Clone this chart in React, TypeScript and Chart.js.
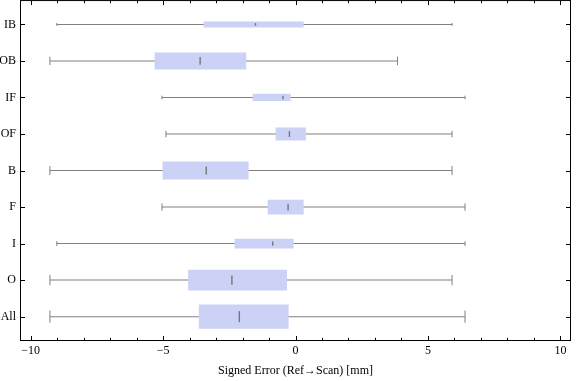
import React, { useEffect, useRef } from 'react';
import { Chart, registerables } from 'chart.js';

Chart.register(...registerables);

// ---- data ----
const categories = ['IB', 'OB', 'IF', 'OF', 'B', 'F', 'I', 'O', 'All'];
const whiskerLow = [-9.01, -9.27, -5.04, -4.89, -9.27, -5.04, -9.01, -9.27, -9.27];
const q1 = [-3.47, -5.32, -1.62, -0.75, -5.02, -1.05, -2.3, -4.05, -3.65];
const medians = [-1.51, -3.6, -0.47, -0.23, -3.37, -0.28, -0.86, -2.4, -2.12];
const q3 = [0.31, -1.86, -0.18, 0.39, -1.77, 0.31, -0.07, -0.32, -0.26];
const whiskerHigh = [5.91, 3.85, 6.4, 5.91, 5.91, 6.4, 6.4, 5.91, 6.4];

const xTicks = [-10, -9, -8, -7, -6, -5, -4, -3, -2, -1, 0, 1, 2, 3, 4, 5, 6, 7, 8, 9, 10];
const xMajorTicks = [-10, -5, 0, 5, 10];
const xTitle = 'Signed Error (Ref\u2192Scan) [mm]';

// ---- styles ----
const BOX_PX = [6, 17, 7.3, 13, 18, 14.7, 9.7, 20.7, 24.3];
const BOX_COLOR = 'rgb(204,210,245)';
const WHISKER_COLOR = '#808080';
const MEDIAN_COLOR = '#767676';
const FONT = 'Liberation Serif, Times New Roman, serif';

const fmt = (v: number) => (v < 0 ? '\u2212' + Math.abs(v) : String(v));

const frameTicks = {
  id: 'frameTicks',
  afterDraw(chart: any) {
    const { ctx, chartArea: a, scales } = chart;
    const xs = scales.x;
    const ys = scales.y;
    ctx.save();
    ctx.strokeStyle = '#000';
    ctx.lineWidth = 1;
    ctx.strokeRect(a.left + 0.5, a.top + 0.5, a.right - a.left - 1, a.bottom - a.top - 1);
    ctx.beginPath();
    for (const t of xs.ticks) {
      const px = Math.round(xs.getPixelForValue(t.value)) + 0.5;
      const len = xMajorTicks.includes(t.value) ? 4 : 2.2;
      ctx.moveTo(px, a.bottom - 1);
      ctx.lineTo(px, a.bottom - 1 - len);
      ctx.moveTo(px, a.top + 1);
      ctx.lineTo(px, a.top + 1 + len);
    }
    for (const t of ys.ticks) {
      const py = Math.round(ys.getPixelForValue(t.value)) + 0.5;
      ctx.moveTo(a.left + 1, py);
      ctx.lineTo(a.left + 5, py);
      ctx.moveTo(a.right - 1, py);
      ctx.lineTo(a.right - 5, py);
    }
    ctx.stroke();
    ctx.restore();
  },
};

export default function App() {
  const ref = useRef<HTMLCanvasElement>(null);

  useEffect(() => {
    document.body.style.margin = '0';
    const pos = categories.map((_, i) => i + 1);

    const boxSets = categories.map((c, i) => ({
      type: 'bar' as const,
      label: c,
      indexAxis: 'y' as const,
      data: [{ x: [q1[i], q3[i]], y: pos[i] }],
      backgroundColor: BOX_COLOR,
      borderWidth: 0,
      inflateAmount: 0,
      barThickness: BOX_PX[i],
      maxBarThickness: BOX_PX[i],
      grouped: false,
      order: 5,
    }));

    const chart = new Chart(ref.current as HTMLCanvasElement, {
      type: 'bar',
      data: {
        datasets: [
          {
            type: 'scatter',
            label: 'median',
            data: medians.map((m, i) => ({ x: m, y: pos[i] })),
            pointStyle: 'line',
            pointRotation: 90,
            pointRadius: BOX_PX.map((t) => t / 4.4),
            pointBorderColor: MEDIAN_COLOR,
            pointBackgroundColor: MEDIAN_COLOR,
            pointBorderWidth: 1.4,
            order: 1,
          } as any,
          {
            type: 'scatter',
            label: 'caps',
            data: [
              ...whiskerLow.map((v, i) => ({ x: v, y: pos[i] })),
              ...whiskerHigh.map((v, i) => ({ x: v, y: pos[i] })),
            ],
            pointStyle: 'line',
            pointRotation: 90,
            pointRadius: [...BOX_PX, ...BOX_PX].map((t) => t / 4),
            pointBorderColor: WHISKER_COLOR,
            pointBackgroundColor: WHISKER_COLOR,
            pointBorderWidth: 1,
            order: 2,
          } as any,
          ...boxSets,
          {
            type: 'bar',
            label: 'range',
            indexAxis: 'y',
            data: categories.map((_, i) => ({ x: [whiskerLow[i], whiskerHigh[i]], y: pos[i] })),
            backgroundColor: WHISKER_COLOR,
            borderWidth: 0,
            inflateAmount: 0,
            barThickness: 1,
            maxBarThickness: 1,
            grouped: false,
            order: 10,
          } as any,
        ],
      },
      options: {
        animation: false,
        responsive: false,
        devicePixelRatio: 1,
        layout: { autoPadding: false, padding: { left: 0, top: 0, right: 5, bottom: 0 } },
        plugins: {
          legend: { display: false },
          tooltip: { enabled: false },
        },
        scales: {
          x: {
            type: 'linear',
            position: 'bottom',
            min: -10.4,
            max: 10.4,
            offset: false,
            grid: { display: false, drawTicks: false, offset: false },
            border: { display: false },
            afterBuildTicks: (s: any) => {
              s.ticks = xTicks.map((v) => ({ value: v }));
            },
            afterFit: (s: any) => {
              s.height = 40;
            },
            ticks: {
              autoSkip: false,
              maxRotation: 0,
              padding: 3,
              color: '#000',
              font: { family: FONT, size: 12 },
              callback: (v: any) => (xMajorTicks.includes(Number(v)) ? fmt(Number(v)) : ''),
            },
            title: {
              display: true,
              text: xTitle,
              color: '#000',
              font: { family: FONT, size: 12 },
              padding: { top: 0, bottom: 3 },
            },
          },
          y: {
            type: 'linear',
            position: 'left',
            reverse: true,
            min: 1 / 3,
            max: categories.length + 2 / 3,
            offset: false,
            grid: { display: false, drawTicks: true, tickLength: 4, offset: false },
            border: { display: false },
            afterBuildTicks: (s: any) => {
              s.ticks = categories.map((_, i) => ({ value: i + 1 }));
            },
            afterFit: (s: any) => {
              s.width = 20;
            },
            ticks: {
              autoSkip: false,
              padding: 0,
              color: '#000',
              font: { family: FONT, size: 12, lineHeight: 0.01 },
              callback: (v: any) => categories[Number(v) - 1] ?? '',
            },
          },
        },
      } as any,
      plugins: [frameTicks],
    });
    return () => chart.destroy();
  }, []);

  return (
    <div style={{ width: 576, height: 381 }}>
      <canvas ref={ref} width={576} height={381} style={{ display: 'block' }} />
    </div>
  );
}
